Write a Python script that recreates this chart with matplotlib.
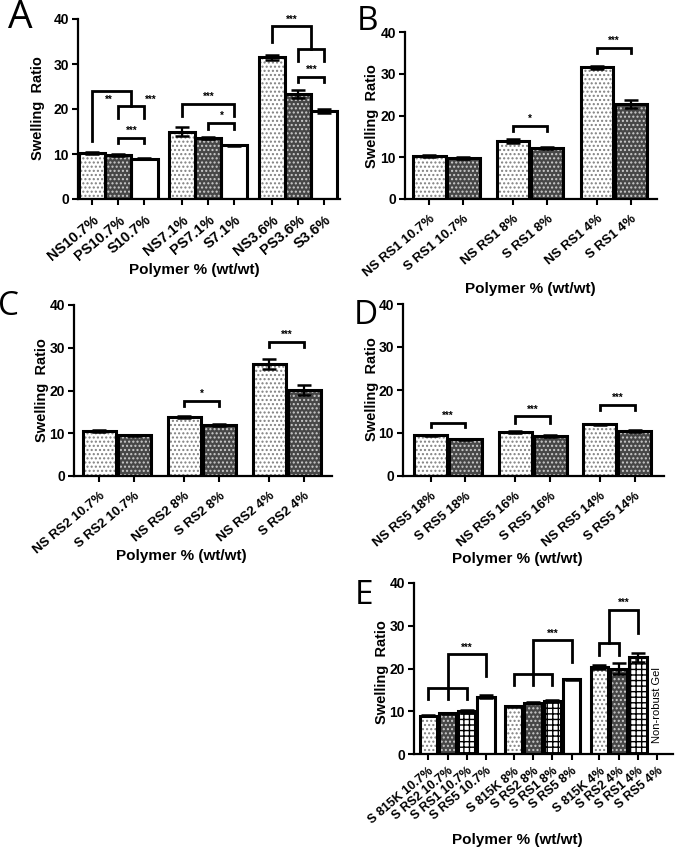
import numpy as np
import matplotlib
matplotlib.use("Agg")
import matplotlib.pyplot as plt

plt.rcParams['font.family'] = ['Liberation Sans', 'DejaVu Sans']
plt.rcParams['hatch.linewidth'] = 1.0

# ---- data -------------------------------------------------------------
a_labels = ["NS10.7%", "PS10.7%", "S10.7%", "NS7.1%", "PS7.1%", "S7.1%",
            "NS3.6%", "PS3.6%", "S3.6%"]
a_values = [10.2, 9.7, 9.0, 14.9, 13.6, 11.9, 31.5, 23.3, 19.6]
a_errors = [0.2, 0.2, 0.2, 1.0, 0.2, 0.2, 0.6, 0.9, 0.5]

b_labels = ["NS RS1 10.7%", "S RS1 10.7%", "NS RS1 8%", "S RS1 8%",
            "NS RS1 4%", "S RS1 4%"]
b_values = [10.3, 9.8, 13.8, 12.2, 31.5, 22.7]
b_errors = [0.2, 0.2, 0.5, 0.2, 0.4, 1.0]

c_labels = ["NS RS2 10.7%", "S RS2 10.7%", "NS RS2 8%", "S RS2 8%",
            "NS RS2 4%", "S RS2 4%"]
c_values = [10.5, 9.5, 13.8, 11.9, 26.2, 20.1]
c_errors = [0.3, 0.2, 0.2, 0.2, 1.1, 1.1]

d_labels = ["NS RS5 18%", "S RS5 18%", "NS RS5 16%", "S RS5 16%",
            "NS RS5 14%", "S RS5 14%"]
d_values = [9.5, 8.5, 10.3, 9.3, 12.0, 10.4]
d_errors = [0.1, 0.2, 0.2, 0.3, 0.1, 0.2]

e_labels = ["S 815K 10.7%", "S RS2 10.7%", "S RS1 10.7%", "S RS5 10.7%",
            "S 815K 8%", "S RS2 8%", "S RS1 8%", "S RS5 8%",
            "S 815K 4%", "S RS2 4%", "S RS1 4%", "S RS5 4%"]
e_values = [9.0, 9.5, 10.0, 13.4, 11.2, 12.0, 12.4, 17.5, 20.4, 20.0, 22.6, np.nan]
e_errors = [0.1, 0.1, 0.3, 0.3, 0.1, 0.1, 0.2, 0.1, 0.4, 1.2, 1.1, np.nan]

# ---- styles -----------------------------------------------------------
STYLE = {
    'light': dict(face='white', hatch='....', hc='#808080'),
    'dark': dict(face='#474747', hatch='....', hc='#cccccc'),
    'white': dict(face='white', hatch=None, hc='black'),
    'grid': dict(face='white', hatch='+++', hc='black'),
}

W, H = 683, 859
fig = plt.figure(figsize=(W / 100, H / 100), dpi=100)


def add_ax(l, r, t, b, xlim):
    ax = fig.add_axes([l / W, 1 - b / H, (r - l) / W, (b - t) / H])
    ax.set_xlim(*xlim)
    ax.set_ylim(0, 40)
    ax.set_yticks([0, 10, 20, 30, 40])
    for s in ['top', 'right']:
        ax.spines[s].set_visible(False)
    for s in ['left', 'bottom']:
        ax.spines[s].set_linewidth(1.6)
    ax.tick_params(width=1.5, length=4)
    ax.tick_params(axis='y', labelsize=10, pad=2.5)
    ax.tick_params(axis='x', pad=6)
    for t_ in ax.get_yticklabels():
        t_.set_fontweight('bold')
    return ax


def positions(n_groups, per_group, gap):
    pos = []
    for g in range(n_groups):
        for i in range(per_group):
            pos.append(g * (per_group + gap) + i)
    return np.array(pos, dtype=float)


def draw_bars(ax, pos, vals, errs, styles, labels, width, fs=9.5):
    for x, v, e, st in zip(pos, vals, errs, styles):
        if np.isnan(v):
            continue
        s = STYLE[st]
        ax.bar(x, v, width, color=s['face'], hatch=s['hatch'],
               edgecolor=s['hc'], linewidth=0, zorder=2)
        ax.bar(x, v, width, fill=False, edgecolor='black', linewidth=2.2, zorder=3)
        ax.errorbar(x, v, yerr=e, fmt='none', ecolor='black', elinewidth=1.6,
                    capsize=5, capthick=1.8, zorder=4)
    ax.set_xticks(pos)
    ax.set_xticklabels(labels, rotation=40, ha='right', rotation_mode='anchor',
                       fontsize=fs, fontweight='bold')


def bracket(ax, x1, x2, y, yl1, yl2, text=None, tx=None):
    ax.plot([x1, x1, x2, x2], [yl1, y, y, yl2], color='black', lw=2,
            solid_joinstyle='miter', zorder=5, clip_on=False)
    if text:
        ax.text((x1 + x2) / 2 if tx is None else tx, y + 0.4, text,
                ha='center', va='bottom', fontsize=7, fontweight='bold')


def fig_text(xp, yp, s, **kw):
    fig.text(xp / W, 1 - yp / H, s, ha='center', va='center', **kw)


def labels_for(xl, yl):
    fig_text(xl[0], xl[1], "Polymer % (wt/wt)", fontsize=11, fontweight='bold')
    fig_text(yl[0], yl[1], "Swelling  Ratio", fontsize=10.5, fontweight='bold',
             rotation=90)


# ---- panel A ----------------------------------------------------------
axA = add_ax(78, 340, 19, 199, (-0.55, 9.5))
pA = positions(3, 3, 0.45)
draw_bars(axA, pA, a_values, a_errors, ['light', 'dark', 'white'] * 3, a_labels,
          1.0, fs=10.5)
bracket(axA, pA[0], (pA[1] + pA[2]) / 2, 24.1, 12.8, 20.7)
bracket(axA, pA[1], pA[2], 20.7, 18.0, 18.0)
axA.text(0.64, 21.0, "**", ha='center', va='bottom', fontsize=7, fontweight='bold')
axA.text(2.25, 21.0, "***", ha='center', va='bottom', fontsize=7, fontweight='bold')
bracket(axA, pA[1], pA[2], 13.6, 12.4, 12.4, "***")
bracket(axA, pA[3], pA[5], 21.2, 18.4, 18.4, "***")
bracket(axA, pA[4], pA[5], 17.0, 15.6, 15.6, "*")
bracket(axA, pA[6], (pA[7] + pA[8]) / 2, 38.4, 35.0, 33.4, "***")
bracket(axA, pA[7], pA[8], 33.4, 30.7, 30.7)
bracket(axA, pA[7], pA[8], 27.1, 26.0, 26.0, "***")
labels_for((194, 270), (38, 108))

# ---- panel B ----------------------------------------------------------
axB = add_ax(405, 657, 32, 199, (-0.72, 6.7))
pB = positions(3, 2, 0.47)
draw_bars(axB, pB, b_values, b_errors, ['light', 'dark'] * 3, b_labels, 0.95)
bracket(axB, pB[2], pB[3], 17.6, 16.4, 16.4, "*")
bracket(axB, pB[4], pB[5], 36.2, 35.0, 35.0, "***")
labels_for((530, 289), (372, 116))

# ---- panel C ----------------------------------------------------------
axC = add_ax(74, 332, 305, 476, (-0.72, 6.65))
pC = positions(3, 2, 0.43)
draw_bars(axC, pC, c_values, c_errors, ['light', 'dark'] * 3, c_labels, 0.95)
bracket(axC, pC[2], pC[3], 17.6, 16.3, 16.3, "*")
bracket(axC, pC[4], pC[5], 31.4, 30.2, 30.2, "***")
labels_for((181, 556), (42, 390))

# ---- panel D ----------------------------------------------------------
axD = add_ax(403, 664, 304, 476, (-0.79, 6.7))
pD = positions(3, 2, 0.43)
draw_bars(axD, pD, d_values, d_errors, ['light', 'dark'] * 3, d_labels, 0.95)
bracket(axD, pD[0], pD[1], 12.4, 11.3, 11.3, "***")
bracket(axD, pD[2], pD[3], 13.9, 12.3, 12.3, "***")
bracket(axD, pD[4], pD[5], 16.6, 15.3, 15.3, "***")
labels_for((517, 559), (372, 389))

# ---- panel E ----------------------------------------------------------
axE = add_ax(414, 673, 583, 754, (-0.74, 12.7))
pE = positions(3, 4, 0.44)
draw_bars(axE, pE, e_values, e_errors, ['light', 'dark', 'grid', 'white'] * 3,
          e_labels, 0.9, fs=9)
axE.tick_params(axis='x', pad=4)
bracket(axE, pE[0], pE[2], 15.4, 12.8, 12.8)
bracket(axE, pE[1], pE[3], 23.3, 12.8, 18.2, "***")
bracket(axE, pE[4], pE[6], 18.7, 16.1, 16.1)
bracket(axE, pE[5], pE[7], 26.6, 16.1, 21.6, "***")
bracket(axE, pE[8], pE[9], 26.0, 23.1, 23.1)
bracket(axE, (pE[8] + pE[9]) / 2, pE[10], 33.8, 26.0, 28.2, "***")
axE.text(pE[11], 2.5, "Non-robust Gel", rotation=90, ha='center', va='bottom',
         fontsize=8)
labels_for((517, 840), (382, 672))

# ---- panel letters ----------------------------------------------------
for (xp, yp, s, fs) in [(20, 18, 'A', 28), (367, 21, 'B', 24), (9, 306, 'C', 24),
                        (366, 315, 'D', 24), (364, 595, 'E', 24)]:
    fig_text(xp, yp, s, fontsize=fs, family='Open Sans')

fig.savefig("out.png", dpi=100)
